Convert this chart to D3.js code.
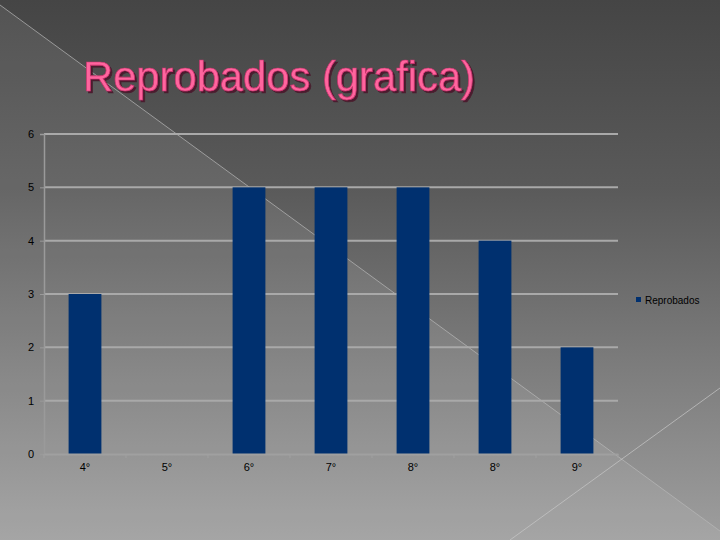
<!DOCTYPE html>
<html><head><meta charset="utf-8">
<script src="https://cdn.jsdelivr.net/npm/d3@7"></script>
<style>html,body{margin:0;padding:0;overflow:hidden;background:#666}</style>
</head><body>
<script>
const title = "Reprobados (grafica)";
const categories = ["4°","5°","6°","7°","8°","8°","9°"];
const values = [3,0,5,5,5,4,2];
const yTicks = [0,1,2,3,4,5,6];
const seriesName = "Reprobados";

(function(){
const W=720,H=540;
const svg=d3.select("body").append("svg").attr("width",W).attr("height",H);
const defs=svg.append("defs");
const g0=defs.append("linearGradient").attr("id","bg").attr("x1",0).attr("y1",0).attr("x2",0).attr("y2",1);
g0.append("stop").attr("offset","0%").attr("stop-color","#454545");
g0.append("stop").attr("offset","35%").attr("stop-color","#5a5a5a");
g0.append("stop").attr("offset","100%").attr("stop-color","#9e9e9e");
svg.append("rect").attr("width",W).attr("height",H).attr("fill","url(#bg)");
svg.append("path").attr("d","M0,5 L720,531 L720,540 L0,540 Z").attr("fill","#ffffff").attr("opacity",0.08);
svg.append("line").attr("x1",0).attr("y1",5).attr("x2",720).attr("y2",531).attr("stroke","#b8b8b8").attr("stroke-width",1).attr("opacity",0.7);
svg.append("line").attr("x1",720).attr("y1",388).attr("x2",510).attr("y2",540).attr("stroke","#c8c8c8").attr("stroke-width",1).attr("opacity",0.7);

const f=defs.append("filter").attr("id","sh").attr("x","-5%").attr("y","-20%").attr("width","110%").attr("height","150%");
f.append("feDropShadow").attr("dx",2).attr("dy",2).attr("stdDeviation",0.4).attr("flood-color","#4a1a2e").attr("flood-opacity",1);

svg.append("text").attr("x",83).attr("y",91).text(title)
  .attr("font-family","Liberation Sans, Arial, sans-serif").attr("font-size",42)
  .attr("textLength",392).attr("lengthAdjust","spacingAndGlyphs")
  .attr("fill","#ff659e").attr("stroke","#c9336e").attr("stroke-width",0.7)
  .attr("filter","url(#sh)");

const pL=44,pR=618,pT=134,pB=454;
const x=d3.scaleBand().domain(d3.range(categories.length)).range([pL,pR]).paddingInner(0.6).paddingOuter(0.3);
const xb=d3.scaleBand().domain(d3.range(categories.length)).range([pL,pR]);
const y=d3.scaleLinear().domain([0,6]).range([pB,pT]);

svg.append("g").selectAll("line").data(yTicks.filter(d=>d>0)).join("line")
  .attr("x1",pL).attr("x2",pR).attr("y1",d=>y(d)).attr("y2",d=>y(d))
  .attr("stroke","#a9a9a9").attr("stroke-width",2);

const ya=svg.append("g").attr("transform",`translate(${pL},0)`)
  .call(d3.axisLeft(y).tickValues(yTicks).tickFormat(d3.format("d")).tickSize(4).tickPadding(6));
ya.select(".domain").attr("stroke","#9a9a9a").attr("stroke-width",1.5);
ya.selectAll(".tick line").attr("stroke","#9a9a9a");
ya.selectAll("text").attr("font-family","Liberation Sans, Arial, sans-serif").attr("font-size",11).attr("fill","#000");

svg.append("g").selectAll("rect").data(values).join("rect")
  .attr("x",(d,i)=>x(i)).attr("width",x.bandwidth())
  .attr("y",d=>y(d)).attr("height",d=>y(0)-y(d)).attr("fill","#00306f");

const xa=svg.append("g").attr("transform",`translate(0,${pB})`)
  .call(d3.axisBottom(xb).tickFormat(i=>categories[i]).tickSize(0).tickPadding(9));
xa.select(".domain").attr("stroke","#a0a0a0").attr("stroke-width",2);
xa.selectAll("text").attr("font-family","Liberation Sans, Arial, sans-serif").attr("font-size",11).attr("fill","#000");
svg.append("g").selectAll("line").data(d3.range(categories.length+1)).join("line")
  .attr("x1",i=>pL+i*xb.step()).attr("x2",i=>pL+i*xb.step())
  .attr("y1",pB).attr("y2",pB+4).attr("stroke","#a0a0a0").attr("stroke-width",1);

svg.append("rect").attr("x",636).attr("y",297).attr("width",5).attr("height",5).attr("fill","#00306f");
svg.append("text").attr("x",645).attr("y",304).text(seriesName)
  .attr("font-family","Liberation Sans, Arial, sans-serif").attr("font-size",10).attr("fill","#000");
})();
</script>
</body></html>
